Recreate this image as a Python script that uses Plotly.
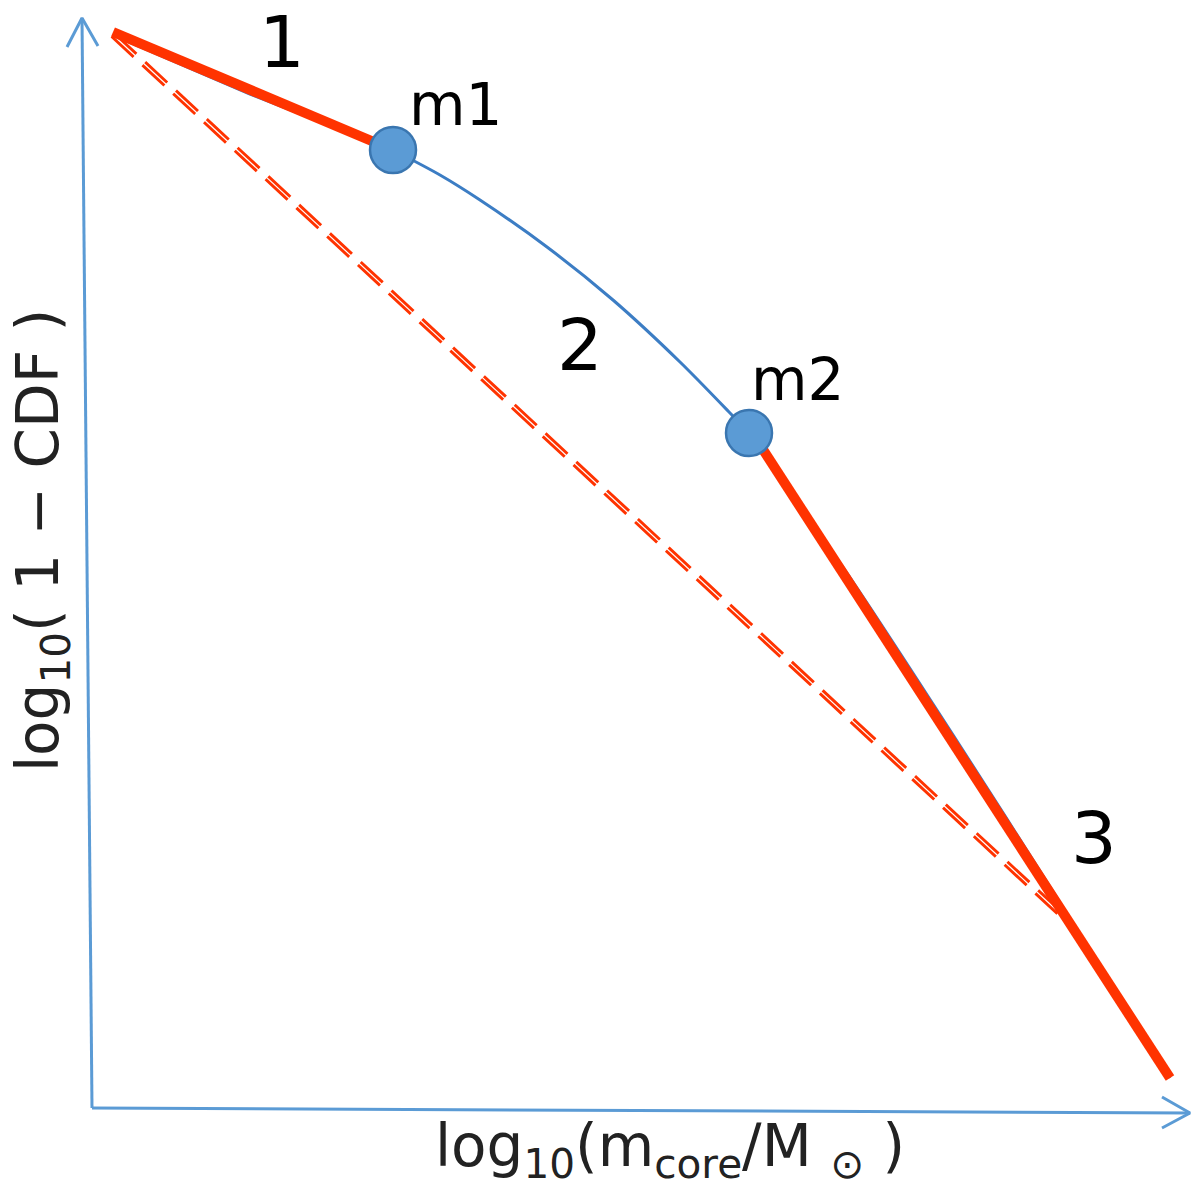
import plotly.graph_objects as go

# schematic coordinates (arbitrary units, 0..1200 on both axes)
# underlying curve of log10(1-CDF) vs log10(m), in three pieces
curve1_x = [113, 250, 393]
curve1_y = [1165, 1106, 1050]
curve2_x = [393, 440, 480, 547, 613, 680, 730, 749]
curve2_y = [1050, 1025, 1000, 953, 900, 838, 787, 767]
curve3_x = [749, 855, 955, 1052, 1170]
curve3_y = [767, 615, 462, 310, 122]

# fitted power-law segments (1 and 3)
seg1_x = [113, 393]
seg1_y = [1168, 1050]
seg3_x = [760, 1170]
seg3_y = [755, 122]

# single power law (dashed)
single_x = [113, 1065]
single_y = [1165, 282]

# break masses
break_x = [393, 749]
break_y = [1050, 767]
break_names = ['m1', 'm2']
break_lab_x = [455, 797]
break_lab_y = [1095, 820]

# segment labels
seg_lab = ['1', '2', '3']
seg_lab_x = [282, 580, 1094]
seg_lab_y = [1158, 855, 362]

# axis arrows
xaxis_x = [92, 1190]
xaxis_y = [92, 87]
yaxis_x = [92, 82]
yaxis_y = [92, 1182]
xhead_x = [1162, 1190, 1162]
xhead_y = [103, 87, 72]
yhead_x = [67, 82, 98]
yhead_y = [1153, 1182, 1154]

red = '#ff3300'
blue_line = '#3c7dc4'
blue_fill = '#5b9bd5'
axis_col = '#5b9bd5'

fig = go.Figure()

# axes with arrow heads
for ax_x, ax_y in [(xaxis_x, xaxis_y), (yaxis_x, yaxis_y), (xhead_x, xhead_y), (yhead_x, yhead_y)]:
    fig.add_trace(go.Scatter(x=ax_x, y=ax_y, mode='lines',
                             line=dict(color=axis_col, width=3)))

# dashed single power law (double stroke look)
fig.add_trace(go.Scatter(x=single_x, y=single_y, mode='lines',
                         line=dict(color=red, width=7, dash='30px,12px')))
fig.add_trace(go.Scatter(x=single_x, y=single_y, mode='lines',
                         line=dict(color='white', width=1.2)))

# curve
fig.add_trace(go.Scatter(x=curve1_x, y=curve1_y, mode='lines',
                         line=dict(color=blue_line, width=3)))
fig.add_trace(go.Scatter(x=curve2_x, y=curve2_y, mode='lines',
                         line=dict(color=blue_line, width=3, shape='spline', smoothing=0.8)))
fig.add_trace(go.Scatter(x=curve3_x, y=curve3_y, mode='lines',
                         line=dict(color=blue_line, width=3, shape='spline', smoothing=0.8)))

# red fits
fig.add_trace(go.Scatter(x=seg1_x, y=seg1_y, mode='lines',
                         line=dict(color=red, width=10)))
fig.add_trace(go.Scatter(x=seg3_x, y=seg3_y, mode='lines',
                         line=dict(color=red, width=10)))

# break points
fig.add_trace(go.Scatter(x=break_x, y=break_y, mode='markers',
                         marker=dict(size=46, color=blue_fill,
                                     line=dict(color='#3a76b0', width=2.5))))

for name, lx, ly in zip(break_names, break_lab_x, break_lab_y):
    fig.add_annotation(x=lx, y=ly, text=name, showarrow=False,
                       font=dict(family='DejaVu Sans', size=58, color='black'))

for t, lx, ly in zip(seg_lab, seg_lab_x, seg_lab_y):
    fig.add_annotation(x=lx, y=ly, text=t, showarrow=False,
                       font=dict(family='DejaVu Sans', size=72, color='black'))

# axis titles
fig.add_annotation(x=670, y=50, text='log<sub>10</sub>(m<sub>core</sub>/M <sub>⊙</sub> )',
                   showarrow=False,
                   font=dict(family='DejaVu Sans', size=58, color='#222222'))
fig.add_annotation(x=42, y=659, text='log<sub>10</sub>( 1 − CDF )', textangle=-90,
                   showarrow=False,
                   font=dict(family='DejaVu Sans', size=58, color='#222222'))

# ranges shifted to offset the page margin
fig.update_layout(width=1200, height=1200, showlegend=False,
                  margin=dict(l=0, r=0, t=0, b=0),
                  plot_bgcolor='white', paper_bgcolor='white',
                  xaxis=dict(range=[8, 1208], visible=False),
                  yaxis=dict(range=[-8, 1192], visible=False))

fig.write_html("out.html")
